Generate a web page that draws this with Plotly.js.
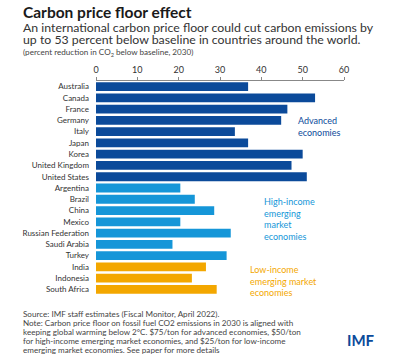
<!DOCTYPE html>
<html>
<head>
<meta charset="utf-8">
<script src="https://cdn.plot.ly/plotly-3.0.1.min.js"></script>
<style>
html,body{margin:0;padding:0;background:#fff;}
#chart{width:393px;height:360px;}
</style>
</head>
<body>
<div id="chart"></div>
<script>
var advancedCountries = ["Australia","Canada","France","Germany","Italy","Japan","Korea","United Kingdom","United States"];
var advancedValues = [36.8, 53.0, 46.3, 44.8, 33.6, 36.8, 50.0, 47.3, 51.0];
var highIncomeCountries = ["Argentina","Brazil","China","Mexico","Russian Federation","Saudi Arabia","Turkey"];
var highIncomeValues = [20.4, 23.9, 28.6, 20.4, 32.6, 18.5, 31.6];
var lowIncomeCountries = ["India","Indonesia","South Africa"];
var lowIncomeValues = [26.6, 23.2, 29.2];
var xTicks = [0, 10, 20, 30, 40, 50, 60];

var allCats = advancedCountries.concat(highIncomeCountries, lowIncomeCountries);

// layout geometry (pixels)
var W = 393, H = 360;
var L = 96, R = 344, T = 81, B = 295;
function px(x){ return (x - L) / (R - L); }
function py(y){ return (B - y) / (B - T); }

var cAdv = "#0b4a9a", cHigh = "#1596d8", cLow = "#f3a700";
var fontFam = "Lato, 'Noto Sans', sans-serif";

function bar(cats, vals, color){
  return {type:"bar", orientation:"h", y:cats, x:vals,
    marker:{color:color}, hoverinfo:"skip", showlegend:false};
}

var data = [
  bar(advancedCountries, advancedValues, cAdv),
  bar(highIncomeCountries, highIncomeValues, cHigh),
  bar(lowIncomeCountries, lowIncomeValues, cLow)
];

function ann(text, x, y, size, color, extra){
  var a = {text:text, xref:"paper", yref:"paper", x:px(x), y:py(y),
    xanchor:"left", yanchor:"middle", showarrow:false, align:"left",
    font:{family:fontFam, size:size, color:color}};
  if (extra) for (var k in extra) a[k] = extra[k];
  return a;
}

var fs = 8.1;
var annotations = [
  ann("<b>Carbon price floor effect</b>", 21, 12, 15.5, "#1a1a1a"),
  ann("An international carbon price floor could cut carbon emissions by", 21, 27, 12.3, "#333333"),
  ann("up to 53 percent below baseline in countries around the world.", 21, 40, 12.3, "#333333"),
  ann("(percent reduction in CO<sub>2</sub> below baseline, 2030)", 21, 52.5, 8.1, "#444444"),
  ann("Advanced<br>economies", 296, 126, 9, cAdv),
  ann("High-income<br>emerging<br>market<br>economies", 262, 219, 9, cHigh),
  ann("Low-income<br>emerging market<br>economies", 248, 281, 9, cLow),
  ann("Source: IMF staff estimates (Fiscal Monitor, April 2022).", 21, 314, fs, "#444444"),
  ann("Note: Carbon price floor on fossil fuel CO2 emissions in 2030 is aligned with", 21, 323, fs, "#444444"),
  ann("keeping global warming below 2°C. $75/ton for advanced economies, $50/ton", 21, 332, fs, "#444444"),
  ann("for high-income emerging market economies, and $25/ton for low-income", 21, 341, fs, "#444444"),
  ann("emerging market economies. See paper for more details", 21, 349.5, fs, "#444444"),
  ann("<b>IMF</b>", 345, 340, 15, "#0b4a9a")
];

var layout = {
  width: W, height: H,
  margin: {l: L, r: W - R, t: T, b: H - B, pad: 0},
  paper_bgcolor: "#ffffff", plot_bgcolor: "#ffffff",
  font: {family: fontFam, size: 8, color: "#333333"},
  bargap: 0.22,
  barmode: "overlay",
  xaxis: {
    side: "top", range: [0, 60], tickvals: xTicks, ticktext: xTicks.map(String),
    showgrid: false, zeroline: false, showline: true, linecolor: "#888888", linewidth: 1,
    ticks: "outside", ticklen: 3, tickcolor: "#888888",
    tickfont: {family: fontFam, size: 9, color: "#333333"}, fixedrange: true
  },
  yaxis: {
    type: "category", categoryorder: "array", categoryarray: allCats,
    autorange: "reversed", showgrid: false, zeroline: false, showline: false,
    ticks: "", ticklabelstandoff: 6,
    tickfont: {family: fontFam, size: 8, color: "#333333"}, fixedrange: true
  },
  annotations: annotations
};

Plotly.newPlot("chart", data, layout, {displayModeBar: false, staticPlot: true});
</script>
</body>
</html>
